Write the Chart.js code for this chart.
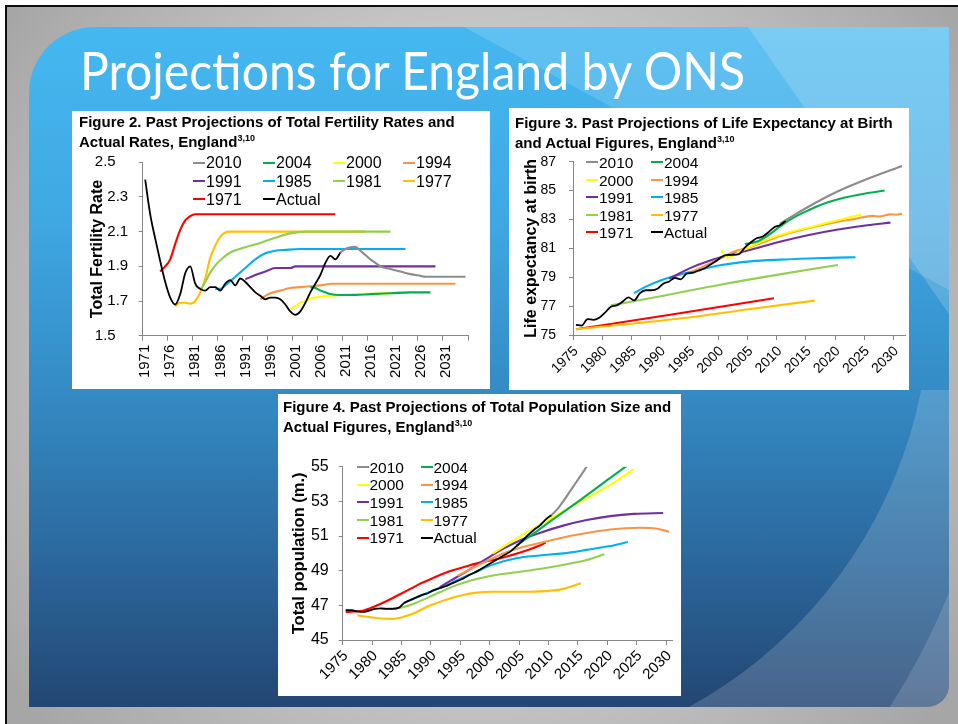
<!DOCTYPE html>
<html>
<head>
<meta charset="utf-8">
<title>Projections for England by ONS</title>
<script src="https://cdn.jsdelivr.net/npm/chart.js@4.4.1/dist/chart.umd.min.js"></script>
<style>
  html, body { margin:0; padding:0; }
  body { width:958px; height:724px; position:relative; overflow:hidden; background:#fff; font-family:"Liberation Sans", Arial, sans-serif; }
  #frame { position:absolute; left:5px; top:5px; right:0; bottom:0; border-left:2px solid #0d0d0d; border-top:2px solid #0d0d0d;
           background: radial-gradient(ellipse 62% 78% at 50% 48%, #d4d4d4 0%, #c8c8c8 55%, #a6a6a6 100%); }
  #panel { position:absolute; left:29px; top:27px; width:920px; height:680px; border-radius:66px 0 22px 0; overflow:hidden;
           background: linear-gradient(180deg, #45b8f1 0%, #3fa8e3 28%, #3489c3 55%, #2b689d 78%, #234673 100%); }
  #panel svg { position:absolute; left:0; top:0; }
  #slideTitle { position:absolute; left:80px; top:44px; font-family: Lato, "Open Sans", sans-serif; font-size:52px; line-height:52px;
                color:#fff; white-space:nowrap; transform-origin:0 0; }
  .fig { position:absolute; background:#fff; }
  .fig canvas { position:absolute; left:0; top:0; }
  .ftitle { position:absolute; font-weight:bold; font-size:15px; line-height:20px; color:#000; white-space:nowrap; }
  .ftitle sup { font-size:9px; line-height:0; vertical-align:6px; }
  .leg { position:absolute; white-space:nowrap; color:#000; }
  .leg i { display:inline-block; height:2px; vertical-align:0.3em; margin-right:1px; }
</style>
</head>
<body>
<div id="frame"></div>
<div id="panel">
  <svg width="920" height="680" viewBox="0 0 920 680">
    <defs>
      <clipPath id="lowClip"><rect x="420" y="363" width="500" height="317"/></clipPath>
    </defs>
    <polygon points="435,0 920,0 920,263" fill="rgba(255,255,255,0.14)"/>
    <polygon points="719,0 920,0 920,287" fill="rgba(255,255,255,0.17)"/>
    <path clip-path="url(#lowClip)" fill-rule="evenodd" fill="rgba(255,255,255,0.16)"
          d="M-100 -100 H1020 V800 H-100 Z M-27 273 a464 464 0 1 0 928 0 a464 464 0 1 0 -928 0 Z"/>
    <path clip-path="url(#lowClip)" fill-rule="evenodd" fill="rgba(255,255,255,0.14)"
          d="M-500 -500 H1100 V1100 H-500 Z M-429 303 a700 700 0 1 0 1400 0 a700 700 0 1 0 -1400 0 Z"/>
  </svg>
</div>
<div id="slideTitle">Projections for England by ONS</div>

<div class="fig" style="left:72px;top:111px;width:418px;height:278px;"><canvas id="c2" width="418" height="278" style="width:418px;height:278px"></canvas></div>
<div class="fig" style="left:509px;top:108px;width:400px;height:282px;"><canvas id="c3" width="400" height="282" style="width:400px;height:282px"></canvas></div>
<div class="fig" style="left:278px;top:394px;width:403px;height:302px;"><canvas id="c4" width="403" height="302" style="width:403px;height:302px"></canvas></div>

<div class="ftitle" style="left:79px;top:112px;">Figure 2. Past Projections of Total Fertility Rates and<br>Actual Rates, England<sup>3,10</sup></div>
<div class="ftitle" style="left:515px;top:113px;">Figure 3. Past Projections of Life Expectancy at Birth<br>and Actual Figures, England<sup>3,10</sup></div>
<div class="ftitle" style="left:283px;top:397px;">Figure 4. Past Projections of Total Population Size and<br>Actual Figures, England<sup>3,10</sup></div>

<script>
// ---------- series names / colours ----------
const NAMES  = ['2010','2004','2000','1994','1991','1985','1981','1977','1971','Actual'];
const COLORS = ['#8c8c8c','#00b050','#ffff00','#f79646','#7030a0','#00b0f0','#92d050','#ffc000','#ff0000','#000000'];

// ---------- Figure 2: Total Fertility Rate ----------
const tfrTickYears = [1970.5,1975.5,1980.5,1985.5,1990.5,1995.5,2000.5,2005.5,2010.5,2015.5,2020.5,2025.5,2030.5,2035.5];
const tfrTickLabels = ['1971','1976','1981','1986','1991','1996','2001','2006','2011','2016','2021','2026','2031',''];
const tfrYTicks = [1.5,1.7,1.9,2.1,2.3,2.5];
const tfrYLabels = ['1.5','1.7','1.9','2.1','2.3','2.5'];

const tfrActualX = [1971,1972,1973,1974,1975,1976,1977,1978,1979,1980,1981,1982,1983,1984,1985,1986,1987,1988,1989,1990,1991,1992,1993,1994,1995,1996,1997,1998,1999,2000,2001,2002,2003,2004,2005,2006,2007,2008,2009,2010];
const tfrActual  = [2.40,2.20,2.06,1.93,1.81,1.72,1.68,1.74,1.86,1.90,1.80,1.77,1.76,1.78,1.78,1.76,1.80,1.82,1.79,1.83,1.81,1.78,1.75,1.73,1.71,1.72,1.72,1.71,1.68,1.64,1.62,1.64,1.69,1.75,1.80,1.85,1.92,1.96,1.94,1.98];
const tfr2010X = [2010,2011,2012,2013,2014,2015,2016,2017,2018,2019,2020,2022,2024,2026,2027,2035];
const tfr2010  = [1.98,2.00,2.01,2.012,1.99,1.965,1.94,1.92,1.90,1.89,1.885,1.87,1.855,1.845,1.84,1.84];
const tfr2004X = [2004,2005,2006,2007,2008,2010,2013,2016,2020,2024,2028];
const tfr2004  = [1.78,1.775,1.76,1.75,1.74,1.735,1.735,1.74,1.745,1.75,1.75];
const tfr2000X = [2000,2001,2002,2003,2004,2006,2008,2010,2013,2016,2020,2024];
const tfr2000  = [1.65,1.67,1.69,1.70,1.715,1.725,1.73,1.735,1.74,1.742,1.745,1.75];
const tfr1994X = [1994,1995,1996,1998,2000,2002,2004,2006,2007,2008,2033];
const tfr1994  = [1.71,1.73,1.745,1.76,1.775,1.78,1.785,1.79,1.795,1.80,1.80];
const tfr1991X = [1991,1993,1995,1997,2000,2001,2029];
const tfr1991  = [1.825,1.85,1.87,1.89,1.89,1.90,1.90];
const tfr1985X = [1985,1986,1987,1989,1991,1993,1995,1997,1999,2002,2023];
const tfr1985  = [1.77,1.77,1.79,1.84,1.89,1.94,1.975,1.99,1.995,2.00,2.00];
const tfr1981X = [1981,1982,1983,1984,1985,1986,1988,1991,1994,1997,2000,2003,2020];
const tfr1981  = [1.79,1.77,1.81,1.865,1.905,1.935,1.98,2.01,2.035,2.065,2.09,2.10,2.10];
const tfr1977X = [1977,1978,1979,1980,1981,1982,1983,1984,1985,1986,1987,1988,2015];
const tfr1977  = [1.67,1.69,1.69,1.685,1.70,1.75,1.83,1.95,2.02,2.07,2.095,2.10,2.10];
const tfr1971X = [1974,1975,1976,1977,1978,1979,1980,1981,1982,2009];
const tfr1971  = [1.87,1.90,1.94,2.03,2.11,2.165,2.19,2.20,2.20,2.20];

// ---------- Figure 3: Life expectancy at birth ----------
const leTickYears = [1974.5,1979.5,1984.5,1989.5,1994.5,1999.5,2004.5,2009.5,2014.5,2019.5,2024.5,2029.5];
const leTickLabels = ['1975','1980','1985','1990','1995','2000','2005','2010','2015','2020','2025','2030'];
const leYTicks = [75,77,79,81,83,85,87];
const leYLabels = ['75','77','79','81','83','85','87'];

const leActualX = [1975,1976,1977,1978,1979,1980,1981,1982,1983,1984,1985,1986,1987,1988,1989,1990,1991,1992,1993,1994,1995,1996,1997,1998,1999,2000,2001,2002,2003,2004,2005,2006,2007,2008,2009,2010,2011];
const leActual  = [75.7,75.65,76.1,76.05,76.2,76.55,76.95,77.05,77.3,77.6,77.4,77.9,78.1,78.1,78.2,78.55,78.7,78.95,78.85,79.25,79.3,79.45,79.6,79.85,80.1,80.4,80.55,80.55,80.6,81.05,81.4,81.7,81.8,82.1,82.45,82.6,82.9];
const le2010X = [2010,2015,2020,2025,2031];
const le2010  = [82.7,83.9,84.95,85.8,86.7];
const le2004X = [2004,2006,2008,2010,2012,2015,2018,2021,2024,2028];
const le2004  = [81.3,81.45,81.9,82.5,83.05,83.65,84.15,84.5,84.75,85.0];
const le2000X = [2000,2001,2003,2005,2008,2012,2015,2018,2021,2024];
const le2000  = [80.85,80.35,80.75,81.15,81.65,82.15,82.45,82.75,83.05,83.35];
const le1994X = [1995,1998,2000,2002,2005,2008,2010,2013,2016,2020,2023,2026,2027,2029,2030,2031];
const le1994  = [79.4,79.95,80.35,80.75,81.1,81.55,81.85,82.2,82.5,82.85,83.05,83.25,83.2,83.35,83.33,83.4];
const le1991X = [1991,1995,2000,2005,2010,2015,2020,2025,2029];
const le1991  = [78.9,79.7,80.4,80.9,81.45,81.92,82.3,82.6,82.78];
const le1985X = [1985,1987,1990,1995,2000,2005,2010,2015,2020,2023];
const le1985  = [77.9,78.35,78.85,79.4,79.85,80.1,80.22,80.3,80.36,80.38];
const le1981X = [1981,1990,2000,2010,2020];
const le1981  = [77.05,77.72,78.5,79.2,79.85];
const le1977X = [1975,1985,1995,2005,2016];
const le1977  = [75.4,75.8,76.25,76.8,77.38];
const le1971X = [1975,1992,2009];
const le1971  = [75.4,76.45,77.55];

// ---------- Figure 4: Total population (m.) ----------
const popTickYears = [1974.5,1979.5,1984.5,1989.5,1994.5,1999.5,2004.5,2009.5,2014.5,2019.5,2024.5,2029.5];
const popTickLabels = ['1975','1980','1985','1990','1995','2000','2005','2010','2015','2020','2025','2030'];
const popYTicks = [45,47,49,51,53,55];
const popYLabels = ['45','47','49','51','53','55'];

const popActualX = [1975,1976,1977,1978,1979,1980,1981,1982,1983,1984,1985,1986,1987,1988,1989,1990,1991,1992,1993,1994,1995,1996,1997,1998,1999,2000,2001,2002,2003,2004,2005,2006,2007,2008,2009,2010];
const popActual  = [46.72,46.72,46.65,46.62,46.7,46.8,46.82,46.8,46.8,46.85,47.15,47.3,47.45,47.6,47.7,47.88,48.0,48.1,48.25,48.4,48.55,48.75,48.9,49.1,49.3,49.5,49.7,49.9,50.1,50.4,50.7,51.05,51.35,51.6,51.95,52.2];
const pop2010X = [2010,2011,2012,2013,2014,2015,2016];
const pop2010  = [52.2,52.55,53.0,53.5,54.0,54.5,55.0];
const pop2004X = [2004,2007,2010,2015,2020,2023];
const pop2004  = [50.45,51.15,51.9,53.1,54.35,55.1];
const pop2000X = [2000,2005,2010,2015,2020,2024];
const pop2000  = [50.0,51.05,52.05,53.0,53.95,54.85];
const pop1994X = [1994,1996,1998,2000,2002,2005,2009,2012,2015,2020,2025,2028,2030];
const pop1994  = [48.7,49.05,49.4,49.72,50.02,50.35,50.68,50.92,51.12,51.38,51.48,51.42,51.25];
const pop1991X = [1991,1993,1996,1999,2002,2005,2008,2012,2016,2020,2024,2029];
const pop1991  = [48.05,48.45,49.05,49.7,50.3,50.8,51.18,51.6,51.92,52.15,52.28,52.33];
const pop1985X = [1985,1988,1991,1994,1997,2000,2004,2008,2012,2016,2020,2023];
const pop1985  = [47.15,47.6,48.0,48.45,48.9,49.35,49.72,49.88,50.0,50.2,50.42,50.65];
const pop1981X = [1981,1984,1987,1990,1993,1996,1999,2002,2005,2009,2013,2016,2019];
const pop1981  = [46.8,46.85,47.15,47.6,48.05,48.4,48.65,48.82,48.95,49.15,49.4,49.62,49.95];
const pop1977X = [1977,1979,1981,1983,1985,1987,1989,1991,1993,1995,1997,2000,2005,2009,2012,2015];
const pop1977  = [46.42,46.33,46.24,46.22,46.35,46.6,46.95,47.2,47.42,47.6,47.72,47.78,47.78,47.82,47.95,48.28];
const pop1971X = [1975,1978,1980,1982,1984,1986,1988,1990,1992,1994,1996,1998,2000,2002,2004,2006,2008,2009];
const pop1971  = [46.62,46.7,46.95,47.25,47.6,47.95,48.3,48.6,48.88,49.1,49.3,49.48,49.62,49.78,49.98,50.2,50.45,50.62];

// ---------- helpers ----------
const FONT = '"Liberation Sans", Arial, sans-serif';
const AXIS = '#868686';

function series(name, xs, ys) {
  const i = NAMES.indexOf(name);
  return {
    label: name,
    data: xs.map((x, k) => ({ x: x, y: ys[k] })),
    borderColor: COLORS[i],
    backgroundColor: COLORS[i],
    borderWidth: name === 'Actual' ? 1.8 : 2.1,
    pointRadius: 0,
    fill: false,
    cubicInterpolationMode: 'monotone',
    order: name === 'Actual' ? 0 : i + 1
  };
}

function buildChart(id, p) {
  const lastY = p.yLabels.length - 1;
  return new Chart(document.getElementById(id), {
    type: 'line',
    data: { datasets: p.datasets },
    options: {
      responsive: false, animation: false, devicePixelRatio: 1,
      layout: { padding: { left: 0, top: p.padTop, right: p.padRight, bottom: 0 } },
      plugins: { legend: { display: false }, tooltip: { enabled: false }, title: { display: false } },
      elements: { point: { radius: 0 } },
      scales: {
        x: {
          type: 'linear', min: p.xMin, max: p.xMax,
          afterBuildTicks: a => { a.ticks = p.xTicks.map(v => ({ value: v })); },
          afterFit: s => { s.height = p.xH; },
          grid: { drawOnChartArea: false, drawTicks: true, tickLength: 5, color: AXIS, lineWidth: 1 },
          border: { color: AXIS, width: 1 },
          ticks: { autoSkip: false, minRotation: p.rot, maxRotation: p.rot, labelOffset: p.labelOffset, padding: p.xPad,
                   color: '#000', font: { family: FONT, size: p.xFont }, callback: (v, i) => p.xLabels[i] }
        },
        y: {
          type: 'linear', min: p.yMin, max: p.yMax,
          afterBuildTicks: a => { a.ticks = p.yTicks.map(v => ({ value: v })); },
          afterFit: s => { s.width = p.yW; },
          grid: { drawOnChartArea: false, drawTicks: true, tickLength: 4, color: AXIS, lineWidth: 1 },
          border: { color: AXIS, width: 1 },
          ticks: { padding: p.yPad, color: '#000', font: { family: FONT, size: p.yFont },
                   callback: (v, i) => p.yLabels[i] + ((i === 0 || i === lastY) ? p.yEdgeGap : '') },
          title: { display: true, text: p.yTitle, color: '#000', font: { family: FONT, size: p.yTitleSize, weight: 'bold' },
                   padding: { top: p.yTitlePad, bottom: 0 } }
        }
      }
    }
  });
}

function buildLegend(cfg) {
  NAMES.forEach((n, i) => {
    const r = Math.floor(i / cfg.cols), c = i % cfg.cols;
    const el = document.createElement('div');
    el.className = 'leg';
    el.style.left = (cfg.x + c * cfg.colW) + 'px';
    el.style.top = (cfg.y + r * cfg.rowH - cfg.lh / 2) + 'px';
    el.style.fontSize = cfg.size + 'px';
    el.style.lineHeight = cfg.lh + 'px';
    const dash = document.createElement('i');
    dash.style.width = cfg.dash + 'px';
    dash.style.background = COLORS[i];
    el.appendChild(dash);
    el.appendChild(document.createTextNode(n));
    document.body.appendChild(el);
  });
}

// ---------- Figure 2 ----------
buildChart('c2', {
  datasets: [
    series('Actual', tfrActualX, tfrActual), series('2010', tfr2010X, tfr2010), series('2004', tfr2004X, tfr2004),
    series('2000', tfr2000X, tfr2000), series('1994', tfr1994X, tfr1994), series('1991', tfr1991X, tfr1991),
    series('1985', tfr1985X, tfr1985), series('1981', tfr1981X, tfr1981), series('1977', tfr1977X, tfr1977),
    series('1971', tfr1971X, tfr1971)
  ],
  padTop: 51.3, padRight: 11.7, yW: 70.7, xH: 53.3,
  xMin: 1970.5, xMax: 2035.5, xTicks: tfrTickYears, xLabels: tfrTickLabels, rot: 90, labelOffset: 2.6, xPad: 4, xFont: 15,
  yMin: 1.5, yMax: 2.5, yTicks: tfrYTicks, yLabels: tfrYLabels, yPad: 10.5, yFont: 15, yEdgeGap: '   ',
  yTitle: 'Total Fertility Rate', yTitleSize: 16, yTitlePad: 16.4
});
buildLegend({ x: 193, y: 163.3, cols: 4, colW: 70, rowH: 18.3, size: 16, lh: 18, dash: 12 });

// ---------- Figure 3 ----------
buildChart('c3', {
  datasets: [
    series('Actual', leActualX, leActual), series('2010', le2010X, le2010), series('2004', le2004X, le2004),
    series('2000', le2000X, le2000), series('1994', le1994X, le1994), series('1991', le1991X, le1991),
    series('1985', le1985X, le1985), series('1981', le1981X, le1981), series('1977', le1977X, le1977),
    series('1971', le1971X, le1971)
  ],
  padTop: 53.7, padRight: 4, yW: 64, xH: 55,
  xMin: 1974.5, xMax: 2031.5, xTicks: leTickYears, xLabels: leTickLabels, rot: 45, labelOffset: 3, xPad: 3, xFont: 14,
  yMin: 75, yMax: 87, yTicks: leYTicks, yLabels: leYLabels, yPad: 13, yFont: 14, yEdgeGap: '',
  yTitle: 'Life expectancy at birth', yTitleSize: 16, yTitlePad: 13
});
buildLegend({ x: 586, y: 162.5, cols: 2, colW: 65, rowH: 17.5, size: 15.5, lh: 17, dash: 12 });

// ---------- Figure 4 ----------
buildChart('c4', {
  datasets: [
    series('Actual', popActualX, popActual), series('2010', pop2010X, pop2010), series('2004', pop2004X, pop2004),
    series('2000', pop2000X, pop2000), series('1994', pop1994X, pop1994), series('1991', pop1991X, pop1991),
    series('1985', pop1985X, pop1985), series('1981', pop1981X, pop1981), series('1977', pop1977X, pop1977),
    series('1971', pop1971X, pop1971)
  ],
  padTop: 72.7, padRight: 8, yW: 64.7, xH: 56,
  xMin: 1974.5, xMax: 2030.5, xTicks: popTickYears, xLabels: popTickLabels, rot: 45, labelOffset: 3, xPad: 2, xFont: 15,
  yMin: 45, yMax: 55, yTicks: popYTicks, yLabels: popYLabels, yPad: 10, yFont: 16, yEdgeGap: '',
  yTitle: 'Total population (m.)', yTitleSize: 16.5, yTitlePad: 12
});
buildLegend({ x: 356.5, y: 467, cols: 2, colW: 64, rowH: 17.7, size: 15.5, lh: 17, dash: 12 });

// ---------- fit slide title width ----------
function fitTitle() {
  const t = document.getElementById('slideTitle');
  t.style.transform = 'none';
  const w = t.getBoundingClientRect().width;
  if (w > 0) t.style.transform = 'scaleX(' + (665 / w) + ')';
}
fitTitle();
if (document.fonts && document.fonts.ready) document.fonts.ready.then(fitTitle);
</script>
</body>
</html>
